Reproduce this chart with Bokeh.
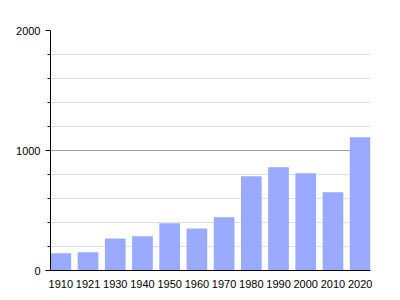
from bokeh.plotting import figure
from bokeh.models import FixedTicker, Range1d
from bokeh.embed import file_html
from bokeh.resources import INLINE

years = ["1910", "1921", "1930", "1940", "1950", "1960", "1970", "1980", "1990", "2000", "2010", "2020"]
population = [144, 153, 267, 286, 394, 350, 444, 786, 861, 811, 653, 1111]
y_major = [0, 1000, 2000]
y_minor = [200, 400, 600, 800, 1200, 1400, 1600, 1800]

xs = list(range(len(years)))
bar_w = 0.76

p = figure(width=400, height=300, output_backend="svg", toolbar_location=None,
           x_range=Range1d(-bar_w / 2, len(years) - 1 + bar_w / 2),
           y_range=Range1d(0, 2000),
           min_border_left=50, min_border_right=30, min_border_top=30, min_border_bottom=30)
p.outline_line_color = None
p.background_fill_color = "white"
p.border_fill_color = "white"

p.vbar(x=xs, top=population, width=bar_w, bottom=0, fill_color="#99aaff", line_color=None)

# x axis
p.xaxis.ticker = FixedTicker(ticks=xs)
p.xaxis.major_label_overrides = {i: y for i, y in enumerate(years)}
p.xaxis.major_tick_line_color = None
p.xaxis.minor_tick_line_color = None
p.xaxis.axis_line_color = "black"
p.xaxis.axis_line_width = 1
p.xaxis.major_label_standoff = 3
p.xaxis.major_label_text_font = "Liberation Sans"
p.xaxis.major_label_text_font_size = "11px"
p.xaxis.major_label_text_color = "black"
p.xgrid.grid_line_color = None

# y axis
p.yaxis.ticker = FixedTicker(ticks=y_major, minor_ticks=y_minor)
p.yaxis.major_tick_out = 5
p.yaxis.major_tick_in = 0
p.yaxis.minor_tick_out = 3
p.yaxis.minor_tick_in = 0
p.yaxis.major_tick_line_color = "black"
p.yaxis.minor_tick_line_color = "black"
p.yaxis.axis_line_color = "black"
p.yaxis.major_label_standoff = 5
p.yaxis.major_label_text_font = "Liberation Sans"
p.yaxis.major_label_text_font_size = "11px"
p.yaxis.major_label_text_color = "black"

p.ygrid.grid_line_color = "#a0a0a0"
p.ygrid.minor_grid_line_color = "#e0e0e0"
p.ygrid.level = "underlay"

open("out.html", "w").write(file_html(p, INLINE))
